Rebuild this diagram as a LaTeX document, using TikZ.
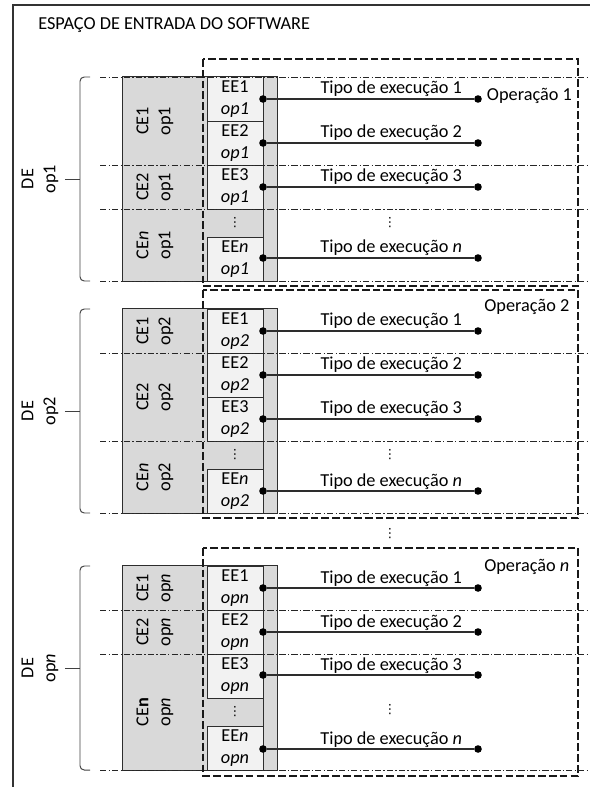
\documentclass[tikz,border=0pt]{standalone}
\usepackage{fontspec}
\setmainfont{Carlito}
\newfontfamily\dotsfont{DejaVu Sans}
\usepackage{tikz}
\usetikzlibrary{positioning, arrows.meta}
\definecolor{cGray}{RGB}{217,217,217}
\definecolor{cLight}{RGB}{242,242,242}
\definecolor{cLine}{RGB}{45,45,45}
\newcommand{\lblfont}{\fontsize{13}{15.6}\selectfont}
\newcommand{\vdotsym}{{\dotsfont ⋮}}
\tikzset{
  blockfill/.style={rectangle, draw=cLine, line width=0.7pt, fill=cGray,
                    inner sep=0pt, minimum width=3.85cm, minimum height=5.1cm},
  eebox/.style={rectangle, draw=cLine, line width=0.7pt, fill=cLight,
                inner sep=0pt, minimum width=1.4cm, minimum height=1.1cm,
                align=center, font=\lblfont},
  celabel/.style={rotate=90, align=center, font=\lblfont, inner sep=0pt},
  delabel/.style={rotate=90, align=center, font=\lblfont, inner sep=1pt},
  tipolabel/.style={font=\lblfont, inner sep=1pt, above, pos=0.6},
  oplabel/.style={font=\lblfont, inner sep=1pt},
  titlelabel/.style={font=\lblfont, inner sep=0pt},
  jdot/.style={circle, fill=black, inner sep=0pt, minimum size=0.19cm},
  dotsnode/.style={font=\fontsize{9}{9}\selectfont, inner sep=0pt},
  execline/.style={draw=cLine, line width=0.75pt},
  boxline/.style={draw=cLine, line width=0.7pt},
  sepline/.style={draw=black!85, line width=0.7pt,
                  dash pattern=on 4.5pt off 1.6pt on 0.8pt off 1.6pt},
  opframe/.style={draw=black!90, line width=0.75pt,
                  dash pattern=on 5.5pt off 2.2pt},
  bracket/.style={draw=black!75, line width=0.7pt, rounded corners=3pt},
  frameline/.style={draw=black!80, line width=0.75pt}
}
\begin{document}
\begin{tikzpicture}[x=0.025cm, y=-0.025cm]
  \useasboundingbox (0,0) rectangle (590,787);

  % outer frame and title
  \draw[frameline] (13,787) -- (13,5) -- (590,5);
  \node[titlelabel, anchor=west] (title) at (38,25) {ESPAÇO DE ENTRADA DO SOFTWARE};

  % ---- operation 1
  \begin{scope}[shift={(0,77)}]
    \node[blockfill] (blk_op1) at (200,102) {};
    \node[eebox] (ee1_op1) at (235,22) {EE1\\\textit{op1}};
    \node[eebox] (ee2_op1) at (235,66) {EE2\\\textit{op1}};
    \node[eebox] (ee3_op1) at (235,110) {EE3\\\textit{op1}};
    \node[dotsnode] (vd_op1) at (235,146) {\vdotsym};
    \node[eebox] (een_op1) at (235,182) {EE\textit{n}\\\textit{op1}};
    \draw[boxline] (263,0) -- (263,204);

    \node[celabel] (ce1_op1) at (155,44) {CE1\\op1};
    \node[celabel] (ce2_op1) at (155,110) {CE2\\op1};
    \node[celabel] (cen_op1) at (155,168) {CE\textit{n}\\op1};

    \draw[opframe] (203,-18) rectangle (578,209);

    \node[jdot] (s1_op1) at (263,22) {};
    \node[jdot] (t1_op1) at (478,22) {};
    \node[jdot] (s2_op1) at (263,66) {};
    \node[jdot] (t2_op1) at (478,66) {};
    \node[jdot] (s3_op1) at (263,110) {};
    \node[jdot] (t3_op1) at (478,110) {};
    \node[jdot] (sn_op1) at (263,181) {};
    \node[jdot] (tn_op1) at (478,181) {};
    \draw[execline] (s1_op1) -- node[tipolabel] (tp1_op1) {Tipo de execução 1} (t1_op1);
    \draw[execline] (s2_op1) -- node[tipolabel] (tp2_op1) {Tipo de execução 2} (t2_op1);
    \draw[execline] (s3_op1) -- node[tipolabel] (tp3_op1) {Tipo de execução 3} (t3_op1);
    \draw[execline] (sn_op1) -- node[tipolabel] (tpn_op1) {Tipo de execução \textit{n}} (tn_op1);
    \node[dotsnode] (vt_op1) at (390,146) {\vdotsym};
    \node[oplabel, right=0.08cm of t1_op1, yshift=2pt] (op_op1) {Operação 1};

    \draw[sepline] (100,0) -- (590,0);
    \draw[sepline] (100,88) -- (590,88);
    \draw[sepline] (100,132) -- (590,132);
    \draw[sepline] (100,204) -- (590,204);

    \draw[bracket] (90,0) -- (80,0) -- (80,204) -- (90,204);
    \coordinate (br_op1) at (80,102);
    \node[delabel] (de_op1) at (40,102) {DE\\op1};
    \draw[bracket, shorten <=0.12cm] (de_op1.south) -- (br_op1);
  \end{scope}

  % ---- operation 2
  \begin{scope}[shift={(0,309)}]
    \node[blockfill] (blk_op2) at (200,102) {};
    \node[eebox] (ee1_op2) at (235,22) {EE1\\\textit{op2}};
    \node[eebox] (ee2_op2) at (235,66) {EE2\\\textit{op2}};
    \node[eebox] (ee3_op2) at (235,110) {EE3\\\textit{op2}};
    \node[dotsnode] (vd_op2) at (235,146) {\vdotsym};
    \node[eebox] (een_op2) at (235,182) {EE\textit{n}\\\textit{op2}};
    \draw[boxline] (263,0) -- (263,204);

    \node[celabel] (ce1_op2) at (155,22) {CE1\\op2};
    \node[celabel] (ce2_op2) at (155,88) {CE2\\op2};
    \node[celabel] (cen_op2) at (155,168) {CE\textit{n}\\op2};

    \draw[opframe] (203,-19) rectangle (578,209);

    \node[jdot] (s1_op2) at (263,22) {};
    \node[jdot] (t1_op2) at (478,22) {};
    \node[jdot] (s2_op2) at (263,66) {};
    \node[jdot] (t2_op2) at (478,66) {};
    \node[jdot] (s3_op2) at (263,110) {};
    \node[jdot] (t3_op2) at (478,110) {};
    \node[jdot] (sn_op2) at (263,182) {};
    \node[jdot] (tn_op2) at (478,182) {};
    \draw[execline] (s1_op2) -- node[tipolabel] (tp1_op2) {Tipo de execução 1} (t1_op2);
    \draw[execline] (s2_op2) -- node[tipolabel] (tp2_op2) {Tipo de execução 2} (t2_op2);
    \draw[execline] (s3_op2) -- node[tipolabel] (tp3_op2) {Tipo de execução 3} (t3_op2);
    \draw[execline] (sn_op2) -- node[tipolabel] (tpn_op2) {Tipo de execução \textit{n}} (tn_op2);
    \node[dotsnode] (vt_op2) at (390,146) {\vdotsym};
    \node[oplabel, anchor=east] (op_op2) at (571,-2) {Operação 2};

    \draw[sepline] (100,44) -- (590,44);
    \draw[sepline] (100,132) -- (590,132);
    \draw[sepline] (100,204) -- (590,204);

    \draw[bracket] (90,0) -- (80,0) -- (80,204) -- (90,204);
    \coordinate (br_op2) at (80,102);
    \node[delabel] (de_op2) at (40,102) {DE\\op2};
    \draw[bracket, shorten <=0.12cm] (de_op2.south) -- (br_op2);
  \end{scope}

  \node[dotsnode] (vd_mid) at (390,534) {\vdotsym};

  % ---- operation n
  \begin{scope}[shift={(0,566)}]
    \node[blockfill] (blk_opn) at (200,102) {};
    \node[eebox] (ee1_opn) at (235,22) {EE1\\\textit{opn}};
    \node[eebox] (ee2_opn) at (235,66) {EE2\\\textit{opn}};
    \node[eebox] (ee3_opn) at (235,110) {EE3\\\textit{opn}};
    \node[dotsnode] (vd_opn) at (235,146) {\vdotsym};
    \node[eebox] (een_opn) at (235,182) {EE\textit{n}\\\textit{opn}};
    \draw[boxline] (263,0) -- (263,204);

    \node[celabel] (ce1_opn) at (155,22) {CE1\\op\textit{n}};
    \node[celabel] (ce2_opn) at (155,66) {CE2\\op\textit{n}};
    \node[celabel] (cen_opn) at (155,146) {CE\textbf{n}\\op\textit{n}};

    \draw[opframe] (203,-18) rectangle (578,210);

    \node[jdot] (s1_opn) at (263,22) {};
    \node[jdot] (t1_opn) at (478,22) {};
    \node[jdot] (s2_opn) at (263,66) {};
    \node[jdot] (t2_opn) at (478,66) {};
    \node[jdot] (s3_opn) at (263,109) {};
    \node[jdot] (t3_opn) at (478,109) {};
    \node[jdot] (sn_opn) at (263,183) {};
    \node[jdot] (tn_opn) at (478,183) {};
    \draw[execline] (s1_opn) -- node[tipolabel] (tp1_opn) {Tipo de execução 1} (t1_opn);
    \draw[execline] (s2_opn) -- node[tipolabel] (tp2_opn) {Tipo de execução 2} (t2_opn);
    \draw[execline] (s3_opn) -- node[tipolabel] (tp3_opn) {Tipo de execução 3} (t3_opn);
    \draw[execline] (sn_opn) -- node[tipolabel] (tpn_opn) {Tipo de execução \textit{n}} (tn_opn);
    \node[dotsnode] (vt_opn) at (390,144) {\vdotsym};
    \node[oplabel, anchor=east] (op_opn) at (571,1) {Operação \textit{n}};

    \draw[sepline] (100,44) -- (590,44);
    \draw[sepline] (100,88) -- (590,88);
    \draw[sepline] (100,204) -- (590,204);

    \draw[bracket] (90,0) -- (80,0) -- (80,204) -- (90,204);
    \coordinate (br_opn) at (80,102);
    \node[delabel] (de_opn) at (40,102) {DE\\op\textit{n}};
    \draw[bracket, shorten <=0.12cm] (de_opn.south) -- (br_opn);
  \end{scope}
\end{tikzpicture}
\end{document}
